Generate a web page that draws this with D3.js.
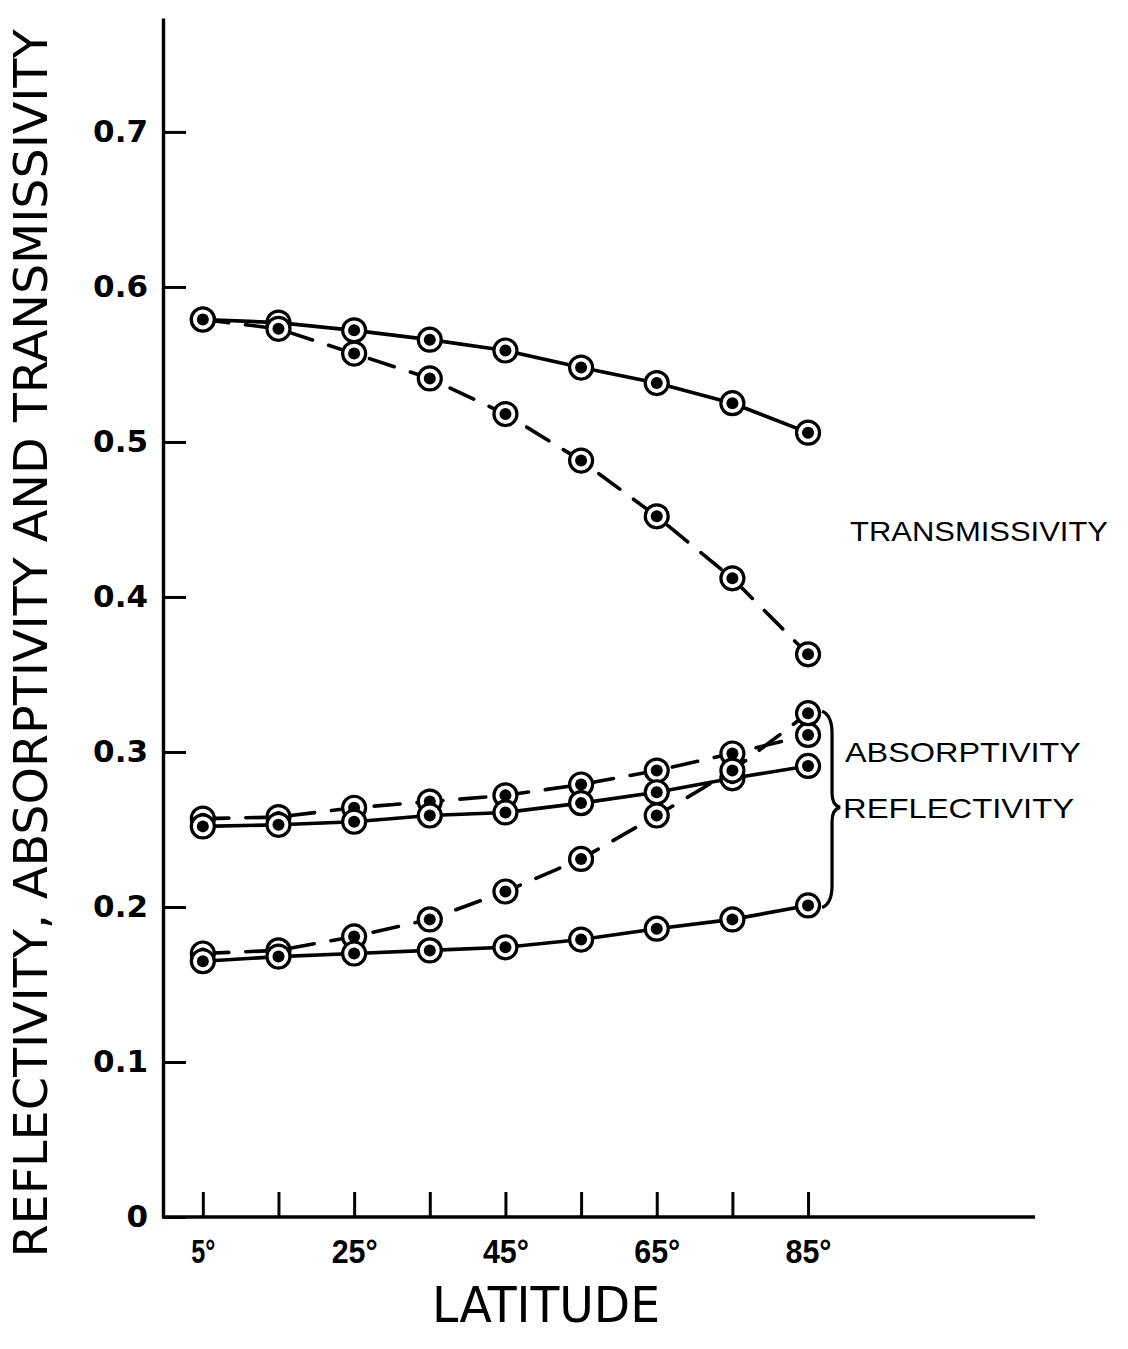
<!DOCTYPE html>
<html>
<head>
<meta charset="utf-8">
<script src="https://cdn.jsdelivr.net/npm/d3@7"></script>
<style>
  html, body { margin: 0; padding: 0; background: #fff; }
  svg { display: block; }
</style>
</head>
<body>
<svg id="chart" width="1128" height="1349"></svg>
<script>
// ---- data ----
const latitudes = [5, 15, 25, 35, 45, 55, 65, 75, 85];
const labeledLatitudes = [5, 25, 45, 65, 85];
const yTicks = [0, 0.1, 0.2, 0.3, 0.4, 0.5, 0.6, 0.7];

const transmissivitySolid  = [0.579, 0.577, 0.572, 0.566, 0.559, 0.548, 0.538, 0.525, 0.506];
const transmissivityDashed = [0.579, 0.573, 0.557, 0.541, 0.518, 0.488, 0.452, 0.412, 0.363];
const absorptivityDashed   = [0.257, 0.258, 0.264, 0.268, 0.272, 0.279, 0.288, 0.299, 0.311];
const absorptivitySolid    = [0.252, 0.253, 0.255, 0.259, 0.261, 0.267, 0.274, 0.283, 0.291];
const reflectivityDashed   = [0.170, 0.172, 0.181, 0.192, 0.210, 0.231, 0.259, 0.288, 0.325];
const reflectivitySolid    = [0.165, 0.168, 0.170, 0.172, 0.174, 0.179, 0.186, 0.192, 0.201];

const seriesList = [
  { name: "T solid",  values: transmissivitySolid,  dashed: false },
  { name: "T dashed", values: transmissivityDashed, dashed: true },
  { name: "A dashed", values: absorptivityDashed,   dashed: true },
  { name: "A solid",  values: absorptivitySolid,    dashed: false },
  { name: "R dashed", values: reflectivityDashed,   dashed: true },
  { name: "R solid",  values: reflectivitySolid,    dashed: false }
];

const yTitle = "REFLECTIVITY, ABSORPTIVITY AND TRANSMISSIVITY";
const xTitle = "LATITUDE";

// ---- scales ----
const svg = d3.select("#chart");
const x = d3.scaleLinear().domain([0, 115]).range([165, 1035]);
const y = d3.scaleLinear().domain([0, 0.7735]).range([1217, 18]);

// ---- axes ----
const yAxis = d3.axisLeft(y)
  .tickValues(yTicks)
  .tickSize(-23)
  .tickSizeOuter(0)
  .tickPadding(15)
  .tickFormat(d => d === 0 ? "0" : d.toFixed(1));

const gy = svg.append("g").attr("transform", `translate(${x(0) - 2},0)`).call(yAxis);
gy.select(".domain").attr("stroke", "#000").attr("stroke-width", 3.4);
gy.selectAll(".tick line").attr("stroke", "#000").attr("stroke-width", 3);
gy.selectAll(".tick text")
  .attr("font-family", "'DejaVu Sans', sans-serif")
  .attr("font-weight", "bold")
  .attr("font-size", 31)
  .attr("fill", "#000");

const xAxis = d3.axisBottom(x)
  .tickValues(latitudes)
  .tickSize(-25)
  .tickSizeOuter(0)
  .tickPadding(22)
  .tickFormat(d => labeledLatitudes.includes(d) ? d + "°" : "");

const gx = svg.append("g").attr("transform", `translate(0,${y(0)})`).call(xAxis);
gx.select(".domain").attr("stroke", "#000").attr("stroke-width", 3.4)
  .attr("d", `M${x(0) - 3},0H${x(115)}`);
gx.selectAll(".tick line").attr("stroke", "#000").attr("stroke-width", 3);
gx.selectAll(".tick text")
  .attr("font-family", "'Liberation Sans Narrow', 'Liberation Sans', Arial, sans-serif")
  .attr("font-weight", "bold")
  .attr("font-size", 34)
  .attr("textLength", d => labeledLatitudes.includes(d) ? (d < 10 ? 24 : 46) : null)
  .attr("lengthAdjust", "spacingAndGlyphs")
  .attr("fill", "#000");

// ---- axis titles ----
svg.append("text")
  .attr("transform", `translate(47,${(y(0) + 20) / 2 + 25}) rotate(-90)`)
  .attr("text-anchor", "middle")
  .attr("font-family", "'Liberation Sans Narrow', 'DejaVu Sans Condensed', 'Liberation Sans', sans-serif")
  .attr("font-size", 46)
  .attr("textLength", 1228)
  .attr("lengthAdjust", "spacingAndGlyphs")
  .attr("fill", "#000")
  .text(yTitle);

svg.append("text")
  .attr("x", 546)
  .attr("y", 1322)
  .attr("text-anchor", "middle")
  .attr("font-family", "'Liberation Sans Narrow', 'DejaVu Sans Condensed', 'Liberation Sans', sans-serif")
  .attr("font-size", 50)
  .attr("textLength", 228)
  .attr("lengthAdjust", "spacingAndGlyphs")
  .attr("fill", "#000")
  .text(xTitle);

// ---- lines ----
const line = d3.line()
  .x((d, i) => x(latitudes[i]))
  .y(d => y(d))
  .curve(d3.curveLinear);

svg.append("g").selectAll("path.series")
  .data(seriesList)
  .join("path")
  .attr("class", "series")
  .attr("d", s => line(s.values))
  .attr("fill", "none")
  .attr("stroke", "#000")
  .attr("stroke-width", 3.6)
  .attr("stroke-linecap", "round")
  .attr("stroke-dasharray", s => s.dashed ? "26,17" : null);

// ---- markers ----
const points = [];
seriesList.forEach(s => s.values.forEach((v, i) => points.push({ lat: latitudes[i], v })));

const mk = svg.append("g").selectAll("g.mk")
  .data(points)
  .join("g")
  .attr("class", "mk")
  .attr("transform", d => `translate(${x(d.lat)},${y(d.v)})`);
mk.append("circle").attr("r", 11.5).attr("fill", "#fff").attr("stroke", "#000").attr("stroke-width", 3.2);
mk.append("circle").attr("r", 6).attr("fill", "#000");

// ---- brace grouping absorptivity / reflectivity ----
const bx = x(85) + 20;
const yTop = y(0.325) - 2;
const yBot = y(0.201) + 2;
const tipY = yTop + (yBot - yTop) * 0.49;
svg.append("path")
  .attr("d", `M${bx - 6},${yTop} Q${bx + 4},${yTop + 4} ${bx + 4},${yTop + 22}
              L${bx + 4},${tipY - 14} Q${bx + 4},${tipY - 2} ${bx + 12},${tipY}
              Q${bx + 4},${tipY + 2} ${bx + 4},${tipY + 14}
              L${bx + 4},${yBot - 22} Q${bx + 4},${yBot - 4} ${bx - 6},${yBot}`)
  .attr("fill", "none")
  .attr("stroke", "#000")
  .attr("stroke-width", 3.2);

// ---- curve labels ----
const labels = [
  { text: "TRANSMISSIVITY", x: 850, y: 541, len: 258 },
  { text: "ABSORPTIVITY",  x: 845, y: 762, len: 236 },
  { text: "REFLECTIVITY",  x: 843, y: 818, len: 231 }
];
svg.append("g").selectAll("text")
  .data(labels)
  .join("text")
  .attr("x", d => d.x)
  .attr("y", d => d.y)
  .attr("font-family", "'Liberation Sans', Arial, sans-serif")
  .attr("font-size", 28)
  .attr("textLength", d => d.len)
  .attr("lengthAdjust", "spacingAndGlyphs")
  .attr("fill", "#000")
  .text(d => d.text);
</script>
</body>
</html>
